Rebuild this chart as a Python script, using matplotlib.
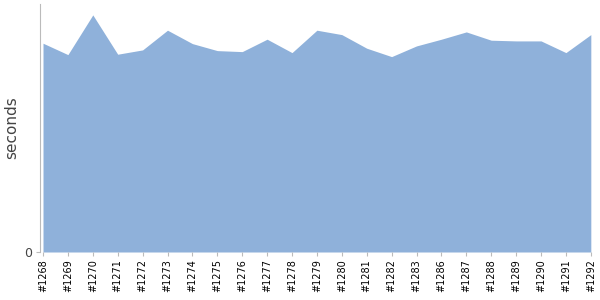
import matplotlib
matplotlib.use("Agg")
import matplotlib.pyplot as plt
import numpy as np

builds = ["#1268", "#1269", "#1270", "#1271", "#1272", "#1273", "#1274", "#1275",
          "#1276", "#1277", "#1278", "#1279", "#1280", "#1281", "#1282", "#1283",
          "#1286", "#1287", "#1288", "#1289", "#1290", "#1291", "#1292"]
seconds = [208.7, 197.3, 237.0, 197.7, 202.0, 221.7, 208.3, 201.3, 200.3, 212.7,
           199.3, 221.7, 217.3, 203.7, 195.3, 206.0, 212.7, 220.0, 211.7, 211.0,
           211.0, 199.3, 217.3]

fig = plt.figure(figsize=(6, 3), dpi=100)
ax = fig.add_axes([0.0667, 0.16, 0.918, 0.827])

x = np.arange(len(builds))
ax.fill_between(x, seconds, 0, color="#8fb1da", linewidth=0)

ax.set_xlim(-0.12, len(builds) - 1)
ax.set_ylim(0, 248)
ax.set_xticks(x)
ax.set_xticklabels(builds, rotation=90, fontsize=7, color="black")
ax.set_yticks([0])
ax.set_yticklabels(["0"], fontsize=9, color="#444444")
ax.set_ylabel("seconds", fontsize=11, color="#444444")
ax.yaxis.set_label_coords(-0.037, 0.5)

for s in ["top", "right", "bottom"]:
    ax.spines[s].set_visible(False)
ax.spines["left"].set_color("#bbbbbb")
ax.tick_params(axis="x", length=3, color="#bbbbbb", pad=2)
ax.tick_params(axis="y", length=3, color="#bbbbbb", pad=3)

fig.savefig("out.png", dpi=100)
